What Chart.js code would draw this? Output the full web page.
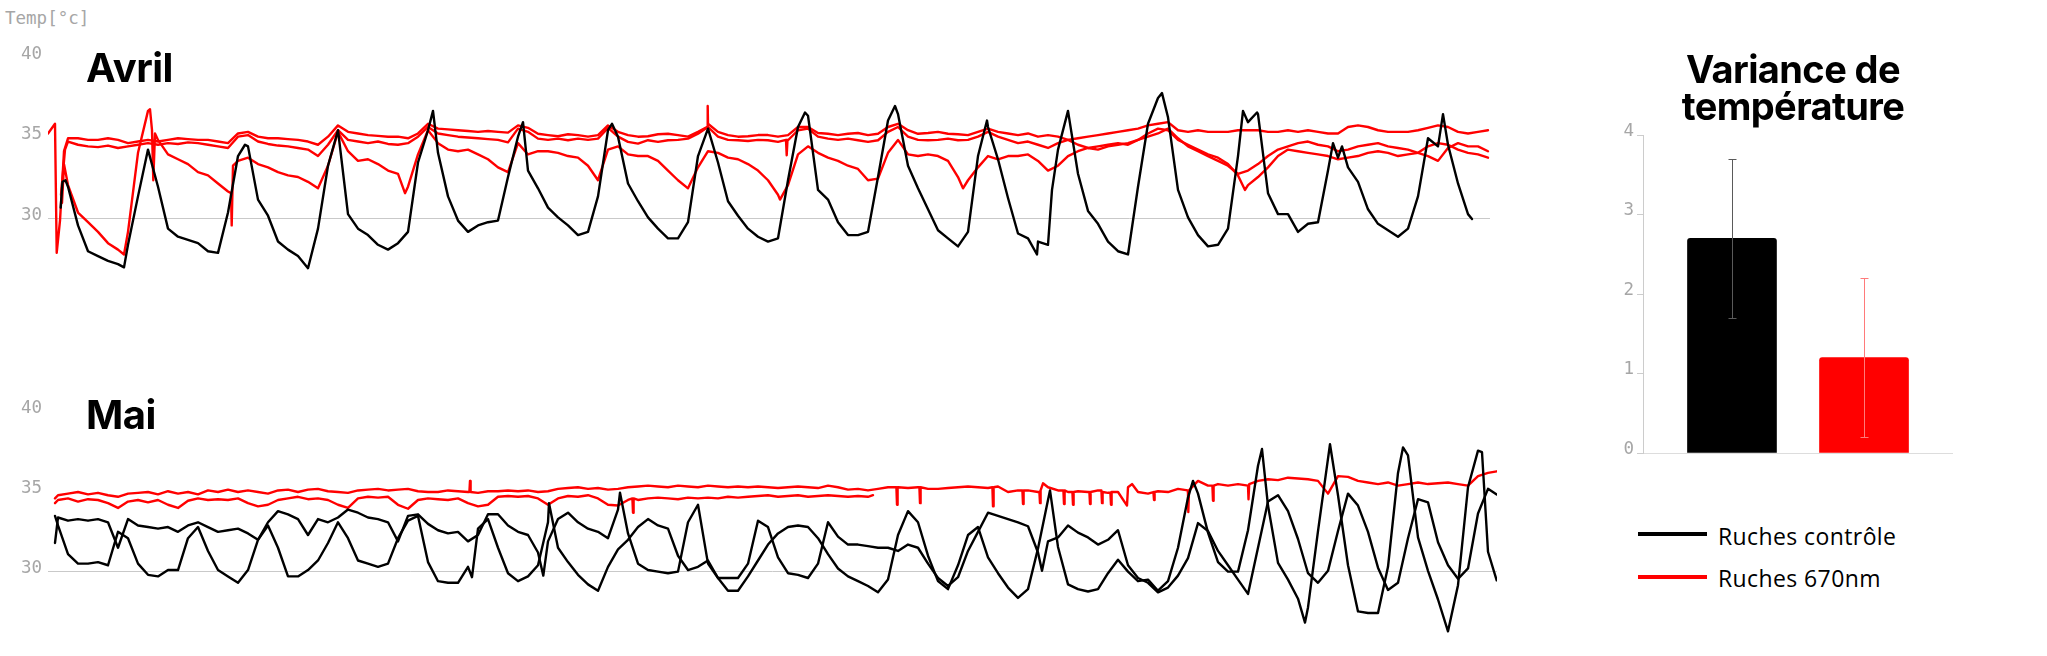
<!DOCTYPE html>
<html>
<head>
<meta charset="utf-8">
<script src="https://cdn.jsdelivr.net/npm/chart.js@4/dist/chart.umd.min.js"></script>
<style>
html,body{margin:0;padding:0;width:2047px;height:656px;overflow:hidden;background:#fff;}
.abs{position:absolute;}
#unit{left:5px;top:8px;font:17.5px/20px "DejaVu Sans Mono",monospace;color:#a6a6a6;white-space:nowrap;}
.ttl{font-family:Inter,"Noto Sans",sans-serif;font-weight:700;color:#000;white-space:nowrap;}
#tAvril{left:86px;top:48px;font-size:40px;line-height:40px;letter-spacing:-0.5px;}
#tMai{left:86px;top:395px;font-size:40px;line-height:40px;letter-spacing:-0.5px;}
#tVar{left:1593px;top:51px;width:400px;text-align:center;font-size:38px;line-height:37px;letter-spacing:-0.6px;}
.lgLine{position:absolute;left:1638px;width:69px;height:4px;}
.lgText{position:absolute;left:1718px;font-family:"Open Sans",sans-serif;font-size:23px;line-height:30px;color:#000;letter-spacing:0.4px;white-space:nowrap;}
canvas{display:block;}
</style>
</head>
<body>
<div id="unit" class="abs">Temp[°c]</div>
<canvas id="cAvril" class="abs" width="1490" height="275" style="left:0;top:25px;"></canvas>
<canvas id="cMai" class="abs" width="1497" height="275" style="left:0;top:380px;"></canvas>
<canvas id="cVar" class="abs" width="370" height="348" style="left:1583px;top:120px;"></canvas>
<div id="tAvril" class="abs ttl">Avril</div>
<div id="tMai" class="abs ttl">Mai</div>
<div id="tVar" class="abs ttl">Variance de<br>température</div>
<div class="lgLine" style="top:532px;background:#000;"></div>
<div class="lgText" id="lg1" style="top:521px;"></div>
<div class="lgLine" style="top:575px;background:#ff0000;"></div>
<div class="lgText" id="lg2" style="top:563px;"></div>
<script>
// ---------- DATA ----------
// Time index: one step between consecutive samples (equal spacing across each month panel)
const yTicks = [30, 35, 40];

const seriesNames = ['Ruches contrôle', 'Ruches 670nm'];

// Avril — control hive (black)
const avrilControle = [null, null, 32.0, 29.6, 28.0, 27.7, 27.4, 27.2, 28.4, 31.4,
 34.3, 32.0, 29.4, 28.9, 28.7, 28.5, 28.0, 27.9, 30.4, 33.9,
 34.5, 31.2, 30.2, 28.6, 28.1, 27.7, 26.95, 29.4, 33.3, 35.5,
 30.3, 29.4, 29.0, 28.4, 28.1, 28.5, 29.2, 33.5, 35.5, 34.1,
 31.4, 29.9, 29.2, 29.6, 29.8, 29.9, 32.6, 35.1, 33.0, 31.9,
 30.7, 30.1, 29.6, 29.0, 29.2, 31.4, 35.5, 35.1, 32.2, 31.1,
 30.1, 29.4, 28.8, 28.8, 29.8, 33.9, 35.6, 33.5, 31.1, 30.2,
 29.4, 28.9, 28.6, 28.8, 32.4, 35.7, 36.4, 31.8, 31.2, 29.8,
 29.0, 29.0, 29.2, 32.6, 36.1, 36.5, 33.3, 31.9, 30.6, 29.3,
 28.8, 28.3, 29.2, 33.9, 35.7, 33.7, 31.3, 29.1, 28.8, 28.6,
 28.4, 34.3, 36.7, 32.8, 30.5, 29.7, 28.6, 28.0, 27.8, 32.0,
 35.9, 37.5, 36.3, 31.8, 30.1, 29.0, 28.3, 28.4, 29.4, 33.9,
 36.0, 36.5, 31.6, 30.3, 30.3, 29.2, 29.7, 29.8, 33.0, 33.8,
 33.2, 32.3, 30.6, 29.7, 29.3, 28.9, 29.4, 31.4, 35.0, 34.5,
 34.6, 32.2, 30.3];
const avrilControleExtra = [[1.27,30.7],[1.45,32.3],[1.75,32.4],[7.6,27.0],[19.7,34.6],[38.5,36.7],[47.5,36.0],
 [56.4,35.9],[75.7,36.6],[84.7,37.0],[93.9,36.1],[98.9,27.8],[100.4,31.8],[111.4,37.8],[119.5,36.7],
 [120.9,36.6],[128.5,34.7],[129.4,34.5],[139.5,36.5],[142.4,30.0]];

// Avril — 670nm hives (red), three hives
const avril670a = [35.3, null, 35.0, 35.0, 34.9, 34.9, 35.0, 34.9, 34.7, 34.8,
 34.9, 34.8, 34.9, 35.0, 34.95, 34.9, 34.9, 34.8, 34.7, 35.3,
 35.4, 35.1, 35.0, 35.0, 34.95, 34.9, 34.8, 34.6, 35.1, 35.8,
 35.4, 35.3, 35.2, 35.15, 35.1, 35.1, 35.0, 35.3, 35.9, 35.6,
 35.55, 35.5, 35.45, 35.4, 35.45, 35.4, 35.35, 35.8, 35.65, 35.28,
 35.2, 35.13, 35.25, 35.2, 35.1, 35.2, 35.8, 35.4, 35.2, 35.1,
 35.13, 35.25, 35.28, 35.2, 35.1, 35.4, 35.9, 35.4, 35.2, 35.1,
 35.13, 35.2, 35.2, 35.1, 35.2, 35.7, 35.7, 35.33, 35.28, 35.2,
 35.28, 35.33, 35.2, 35.28, 35.7, 35.9, 35.5, 35.28, 35.33, 35.4,
 35.28, 35.25, 35.2, 35.4, 35.6, 35.4, 35.3, 35.2, 35.3, 35.1,
 35.2, 35.1, 34.9, 35.0, 35.1, 35.2, 35.3, 35.4, 35.5, 35.6,
 35.8, 35.9, 36.0, 35.5, 35.4, 35.5, 35.4, 35.4, 35.4, 35.5,
 35.5, 35.5, 35.4, 35.4, 35.5, 35.4, 35.5, 35.4, 35.3, 35.3,
 35.7, 35.8, 35.7, 35.5, 35.4, 35.4, 35.4, 35.5, 35.65, 35.8,
 35.7, 35.4, 35.3, 35.4, 35.5];
const avril670aExtra = [[0.7,35.9],[0.87,27.9],[1.2,29.9],[1.6,34.2],[65.9,35.7],[65.97,37.0]];

const avril670b = [null, null, 34.8, 34.6, 34.5, 34.45, 34.55, 34.4, 34.5, 34.6,
 34.7, 34.6, 34.7, 34.65, 34.75, 34.7, 34.6, 34.5, 34.4, 35.1,
 35.2, 34.8, 34.65, 34.55, 34.5, 34.4, 34.3, 33.9, 34.6, 35.5,
 34.9, 34.8, 34.7, 34.8, 34.65, 34.6, 34.7, 35.1, 35.7, 35.3,
 35.2, 35.1, 35.05, 35.0, 34.95, 34.9, 34.75, 35.6, 35.4, 34.98,
 34.9, 34.98, 34.88, 34.98, 34.9, 34.98, 35.65, 35.1, 34.78, 34.67,
 34.88, 34.78, 34.88, 34.9, 34.98, 35.28, 35.7, 35.1, 34.9, 34.88,
 34.83, 34.9, 34.88, 34.78, 34.88, 35.5, 35.6, 35.1, 34.98, 34.9,
 34.98, 34.88, 34.78, 34.88, 35.4, 35.7, 35.1, 34.9, 34.88, 34.9,
 34.98, 34.88, 34.9, 35.1, 35.4, 35.1, 34.9, 34.7, 34.8, 34.6,
 34.4, 34.7, 34.9, 34.6, 34.4, 34.3, 34.5, 34.6, 34.7, 34.9,
 35.3, 35.6, 35.5, 34.9, 34.6, 34.3, 34.0, 33.8, 33.4, 32.7,
 32.1, 32.6, 33.2, 33.9, 34.3, 34.2, 34.1, 34.0, 33.9, 33.7,
 33.8, 33.9, 34.1, 34.2, 34.1, 33.9, 34.0, 34.1, 34.5, 34.7,
 34.6, 34.3, 34.1, 34.0, 33.8];
const avril670bExtra = [[1.3,31.5],[1.7,34.3],[73.8,34.9],[73.87,33.95],[73.95,34.9],[119.7,31.8]];

const avril670c = [null, null, 32.1, 30.4, 29.8, 29.2, 28.5, 28.1, 29.2, 34.1,
 36.7, 34.9, 34.0, 33.7, 33.4, 32.9, 32.7, 32.2, 31.7, 33.6,
 33.8, 33.4, 33.2, 32.9, 32.7, 32.6, 32.3, 31.9, 33.3, 35.4,
 34.2, 33.6, 33.7, 33.4, 33.0, 32.8, 32.0, 34.0, 35.5, 34.7,
 34.3, 34.2, 34.3, 34.0, 33.7, 33.2, 32.9, 34.7, 34.0, 34.2,
 34.2, 34.1, 33.9, 33.8, 33.3, 32.4, 34.3, 34.5, 34.0, 33.9,
 33.9, 33.6, 33.0, 32.4, 31.9, 33.2, 34.2, 34.1, 33.8, 33.7,
 33.4, 33.0, 32.4, 31.5, 32.1, 34.0, 34.5, 34.1, 33.8, 33.6,
 33.3, 33.1, 32.4, 32.5, 34.1, 34.9, 34.0, 33.9, 34.0, 33.9,
 33.6, 32.6, 32.4, 33.2, 33.9, 33.7, 33.9, 33.9, 34.0, 33.6,
 33.0, 33.3, 33.9, 34.2, 34.4, 34.5, 34.6, 34.7, 34.6, 34.9,
 35.1, 35.3, 35.6, 35.0, 34.5, 34.2, 33.9, 33.6, 33.3, 32.8,
 33.0, 33.4, 33.9, 34.3, 34.5, 34.7, 34.8, 34.6, 34.5, 34.2,
 34.3, 34.5, 34.6, 34.7, 34.5, 34.4, 34.3, 34.1, 33.9, 33.6,
 34.4, 34.7, 34.5, 34.5, 34.2];
const avril670cExtra = [[1.4,31.0],[1.6,33.4],[7.6,27.8],[10.2,36.8],[10.4,35.5],[10.53,32.4],[10.7,35.3],
 [18.3,31.6],[18.37,29.6],[18.5,33.3],[35.7,31.6],[73.2,31.2],[91.5,31.9]];

// Mai — control hives (black), two hives
const maiControleA = [null, 33.4, 33.2, 33.3, 33.2, 33.3, 33.1, 31.5, 33.3, 32.9,
 32.8, 32.7, 32.8, 32.5, 32.9, 33.1, 32.8, 32.5, 32.6, 32.7,
 32.4, 32.0, 33.1, 33.8, 33.6, 33.3, 32.3, 33.3, 33.1, 33.4,
 33.9, 33.7, 33.4, 33.3, 33.1, 31.9, 33.5, 33.6, 33.0, 32.6,
 32.4, 32.5, 31.9, 32.3, 33.6, 33.6, 32.9, 32.5, 32.3, 31.2,
 31.9, 33.3, 33.7, 33.1, 32.7, 32.5, 32.1, 33.9, 32.4, 30.5,
 30.1, 30.0, 29.9, 30.0, 33.1, 34.2, 30.5, 29.6, 29.6, 29.6,
 30.5, 33.2, 32.8, 30.9, 29.9, 29.8, 29.6, 30.5, 33.1, 32.2,
 31.7, 31.7, 31.6, 31.5, 31.5, 31.3, 31.7, 31.5, 30.5, 29.6,
 29.1, 29.65, 31.3, 32.5, 33.7, 33.5, 33.3, 33.1, 32.85, 31.2,
 31.9, 32.15, 32.9, 32.45, 32.15, 31.7, 32.0, 32.6, 30.4, 29.6,
 29.3, 28.7, 29.0, 29.75, 30.85, 33.05, 32.55, 31.3, 30.4, 29.5,
 28.6, 31.5, 34.4, 34.8, 33.8, 32.05, 29.9, 29.3, 30.05, 32.55,
 34.9, 34.15, 32.5, 30.25, 28.85, 29.3, 32.1, 34.55, 34.35, 31.85,
 30.4, 29.55, 30.2, 33.65, 35.2];
const maiControleAExtra = [[0.7,31.8],[49.53,29.75],[57.2,34.96],[99.4,30.05],[144.87,34.85]];

const maiControleB = [null, 32.9, 31.1, 30.5, 30.5, 30.6, 30.4, 32.5, 32.1, 30.5,
 29.8, 29.7, 30.1, 30.1, 32.1, 32.8, 31.3, 30.1, 29.7, 29.3,
 30.1, 32.0, 32.9, 31.5, 29.7, 29.7, 30.1, 30.7, 31.8, 33.1,
 32.1, 30.7, 30.5, 30.3, 30.5, 32.1, 33.2, 33.5, 30.6, 29.4,
 29.3, 29.3, 30.3, 32.7, 33.3, 31.5, 29.9, 29.4, 29.7, 30.4,
 33.1, 31.5, 30.6, 29.8, 29.2, 28.8, 30.3, 31.4, 32.0, 32.8,
 33.3, 32.9, 32.7, 31.0, 30.1, 30.3, 30.7, 29.6, 28.8, 28.8,
 29.7, 30.7, 31.7, 32.4, 32.8, 32.9, 32.8, 32.1, 31.1, 30.2,
 29.7, 29.4, 29.1, 28.7, 29.5, 32.3, 33.8, 33.1, 31.0, 29.4,
 28.9, 30.4, 32.3, 32.8, 30.9, 29.9, 29.0, 28.35, 28.9, 31.45,
 34.5, 31.55, 29.2, 28.9, 28.75, 28.9, 29.9, 30.75, 30.0, 29.4,
 29.5, 28.8, 29.4, 31.5, 34.65, 34.9, 32.45, 30.6, 30.0, 30.0,
 32.6, 36.65, 34.15, 30.55, 29.5, 28.3, 27.75, 32.55, 37.1, 34.8,
 30.4, 27.5, 27.4, 27.4, 30.3, 36.2, 37.3, 32.15, 30.05, 28.25,
 26.25, 29.15, 35.3, 37.6, 31.25];
const maiControleBExtra = [[0.7,33.5],[42.4,29.65],[50.1,34.3],[100.2,35.1],[114.5,35.7],[121.4,37.7],
 [125.7,26.8],[128.2,38.0],[135.5,37.8],[143.4,37.5],[144.87,29.45]];

// Mai — 670nm hives (red), two hives
const mai670a = [null, 34.8, 34.9, 35.0, 34.85, 34.95, 34.8, 34.7, 34.9, 34.95,
 35.0, 34.85, 35.05, 34.9, 35.0, 34.85, 35.1, 35.0, 35.15, 35.0,
 35.1, 35.0, 34.9, 35.1, 35.15, 35.0, 35.15, 35.2, 35.05, 35.0,
 34.95, 35.1, 35.15, 35.2, 35.1, 35.15, 35.2, 35.05, 35.0, 35.0,
 35.1, 35.05, 35.0, 34.95, 35.05, 35.05, 35.1, 35.05, 35.1, 35.0,
 35.05, 35.2, 35.25, 35.3, 35.2, 35.25, 35.15, 35.2, 35.3, 35.35,
 35.4, 35.35, 35.3, 35.4, 35.35, 35.3, 35.4, 35.35, 35.3, 35.35,
 35.3, 35.35, 35.3, 35.25, 35.3, 35.35, 35.3, 35.25, 35.4, 35.3,
 35.15, 35.2, 35.1, 35.2, 35.3, 35.3, 35.25, 35.3, 35.2, 35.2,
 35.25, 35.3, 35.35, 35.3, 35.25, 35.35, 35.0, 35.1, 35.1, 35.0,
 35.3, 35.1, 35.0, 35.05, 35.0, 35.1, 34.95, 35.0, 35.3, 35.0,
 34.9, 35.05, 35.0, 35.2, 34.9, 35.7, 35.4, 35.5, 35.4, 35.5,
 35.4, 35.7, 35.8, 35.75, 35.9, 35.85, 35.8, 35.7, 34.9, 36.0,
 35.95, 35.7, 35.6, 35.5, 35.6, 35.4, 35.5, 35.6, 35.5, 35.55,
 35.6, 35.5, 35.4, 36.0, 36.2];
const mai670aExtra = [[0.7,34.6],
 [42.14,35.0],[42.2,35.7],[42.26,35.0],
 [84.84,35.3],[84.9,34.2],[84.96,35.3],
 [87.14,35.3],[87.2,34.3],[87.26,35.3],
 [94.44,35.3],[94.5,34.1],[94.56,35.3],
 [97.44,35.1],[97.5,34.25],[97.56,35.1],
 [99.14,35.0],[99.2,34.3],[99.26,35.1],[99.5,35.55],
 [101.54,35.1],[101.6,34.25],[101.66,35.1],
 [102.44,35.0],[102.5,34.2],[102.56,35.0],
 [104.14,35.0],[104.2,34.25],[104.26,35.0],
 [105.34,35.1],[105.4,34.3],[105.46,35.0],
 [106.24,34.95],[106.3,34.2],[106.36,35.0],
 [107.9,34.15],[108.4,35.5],
 [110.54,35.0],[110.6,34.5],[110.66,35.0],
 [113.97,35.1],[114.03,33.75],[114.1,35.1],
 [116.44,35.4],[116.5,34.45],[116.56,35.4],
 [120.05,34.55],[120.12,35.5],
 [144.87,36.3]];

const mai670b = [null, 34.5, 34.6, 34.4, 34.55, 34.5, 34.3, 34.0, 34.4, 34.5,
 34.35, 34.5, 34.2, 34.0, 34.45, 34.6, 34.5, 34.55, 34.5, 34.6,
 34.3, 34.1, 34.2, 34.5, 34.6, 34.7, 34.55, 34.6, 34.5, 34.2,
 34.0, 34.6, 34.7, 34.65, 34.7, 34.2, 33.95, 34.5, 34.6, 34.55,
 34.5, 34.6, 34.3, 34.1, 34.2, 34.7, 34.75, 34.7, 34.75, 34.6,
 34.2, 34.6, 34.75, 34.7, 34.8, 34.6, 34.2, 34.15, 34.5, 34.5,
 34.6, 34.65, 34.6, 34.55, 34.65, 34.6, 34.65, 34.6, 34.7, 34.65,
 34.7, 34.75, 34.8, 34.7, 34.75, 34.8, 34.7, 34.75, 34.8, 34.75,
 34.7, 34.75, 34.7];
const mai670bExtra = [[0.7,34.3],[58.44,34.6],[58.5,33.7],[58.56,34.6],[82.5,34.8]];

// Variance de température (bar chart)
const varianceValues = [2.7, 1.2];
const varianceErrors = [1.0, 1.0];

// ---------- STYLE ----------
const BLACK = '#000000', RED = '#ff0000';
const tickFont = {family: 'DejaVu Sans Mono', size: 17.5};
const tickColor = '#a6a6a6';

document.getElementById('lg1').textContent = seriesNames[0];
document.getElementById('lg2').textContent = seriesNames[1];

function buildSeries(base, extra) {
  const pts = [];
  base.forEach((v, i) => { if (v !== null) pts.push({x: i, y: v}); });
  (extra || []).forEach(p => pts.push({x: p[0], y: p[1]}));
  pts.sort((a, b) => a.x - b.x);
  return pts;
}
function ds(base, extra, color) {
  return {data: buildSeries(base, extra), borderColor: color, backgroundColor: color,
          borderWidth: 2.4, pointRadius: 0, tension: 0, borderJoinStyle: 'round', borderCapStyle: 'round', fill: false};
}
function lineOptions(xMax, yMin, yMax, padBottom) {
  return {
    responsive: false, animation: false, events: [], parsing: false,
    layout: {padding: {top: 15, bottom: padBottom, left: 0, right: 0}},
    plugins: {legend: {display: false}, tooltip: {enabled: false}, title: {display: false}},
    scales: {
      x: {type: 'linear', display: false, min: 0, max: xMax},
      y: {
        type: 'linear', min: yMin, max: yMax,
        afterFit(s) { s.width = 48; },
        afterBuildTicks(s) { s.ticks = yTicks.map(v => ({value: v})); },
        border: {display: false},
        grid: {drawTicks: false, lineWidth: 1,
               color: c => (c.tick && c.tick.value === 30) ? '#c9c9c9' : 'rgba(0,0,0,0)'},
        ticks: {padding: 6, color: tickColor, font: tickFont, labelOffset: -3.5}
      }
    }
  };
}

new Chart(document.getElementById('cAvril'), {
  type: 'line',
  data: {datasets: [
    ds(avrilControle, avrilControleExtra, BLACK),
    ds(avril670a, avril670aExtra, RED),
    ds(avril670b, avril670bExtra, RED),
    ds(avril670c, avril670cExtra, RED)
  ]},
  options: lineOptions(144.2, 26, 41, 15)
});

new Chart(document.getElementById('cMai'), {
  type: 'line',
  data: {datasets: [
    ds(maiControleA, maiControleAExtra, BLACK),
    ds(maiControleB, maiControleBExtra, BLACK),
    ds(mai670a, mai670aExtra, RED),
    ds(mai670b, mai670bExtra, RED)
  ]},
  options: lineOptions(144.9, 25.8, 41, 12)
});

const errorColors = ['#5a5a5a', '#ff7a7a'];
const errorBarPlugin = {
  id: 'errorBars',
  afterDatasetsDraw(chart) {
    const {ctx} = chart;
    const y = chart.scales.y;
    const meta = chart.getDatasetMeta(0);
    meta.data.forEach((bar, i) => {
      const cx = Math.round(bar.x) + 0.5;
      const yHi = Math.round(y.getPixelForValue(varianceValues[i] + varianceErrors[i])) + 0.5;
      const yLo = Math.round(y.getPixelForValue(varianceValues[i] - varianceErrors[i])) + 0.5;
      ctx.save();
      ctx.strokeStyle = errorColors[i];
      ctx.lineWidth = 1;
      ctx.beginPath();
      ctx.moveTo(cx, yHi); ctx.lineTo(cx, yLo);
      ctx.moveTo(cx - 4, yHi); ctx.lineTo(cx + 4, yHi);
      ctx.moveTo(cx - 4, yLo); ctx.lineTo(cx + 4, yLo);
      ctx.stroke();
      ctx.restore();
    });
  }
};

new Chart(document.getElementById('cVar'), {
  type: 'bar',
  data: {labels: seriesNames, datasets: [{
    data: varianceValues.map((v, i) => ({x: i + 1, y: v})),
    backgroundColor: [BLACK, RED], borderWidth: 0, borderRadius: 3, barThickness: 89
  }]},
  options: {
    responsive: false, animation: false, events: [],
    layout: {padding: {top: 15, bottom: 15, left: 0, right: 0}},
    plugins: {legend: {display: false}, tooltip: {enabled: false}},
    scales: {
      x: {type: 'linear', min: 0.326, max: 2.674, offset: false,
          grid: {display: true, drawOnChartArea: false, drawTicks: false, offset: false},
          border: {display: true, color: '#dddddd', width: 1},
          ticks: {display: false}},
      y: {type: 'linear', min: 0, max: 4,
          afterFit(s) { s.width = 60; },
          ticks: {stepSize: 1, padding: 3, color: tickColor, font: tickFont, labelOffset: -4},
          grid: {drawOnChartArea: false, drawTicks: true, tickLength: 6, color: '#cccccc'},
          border: {display: true, color: '#cccccc', width: 1}}
    }
  },
  plugins: [errorBarPlugin]
});
</script>
</body>
</html>
